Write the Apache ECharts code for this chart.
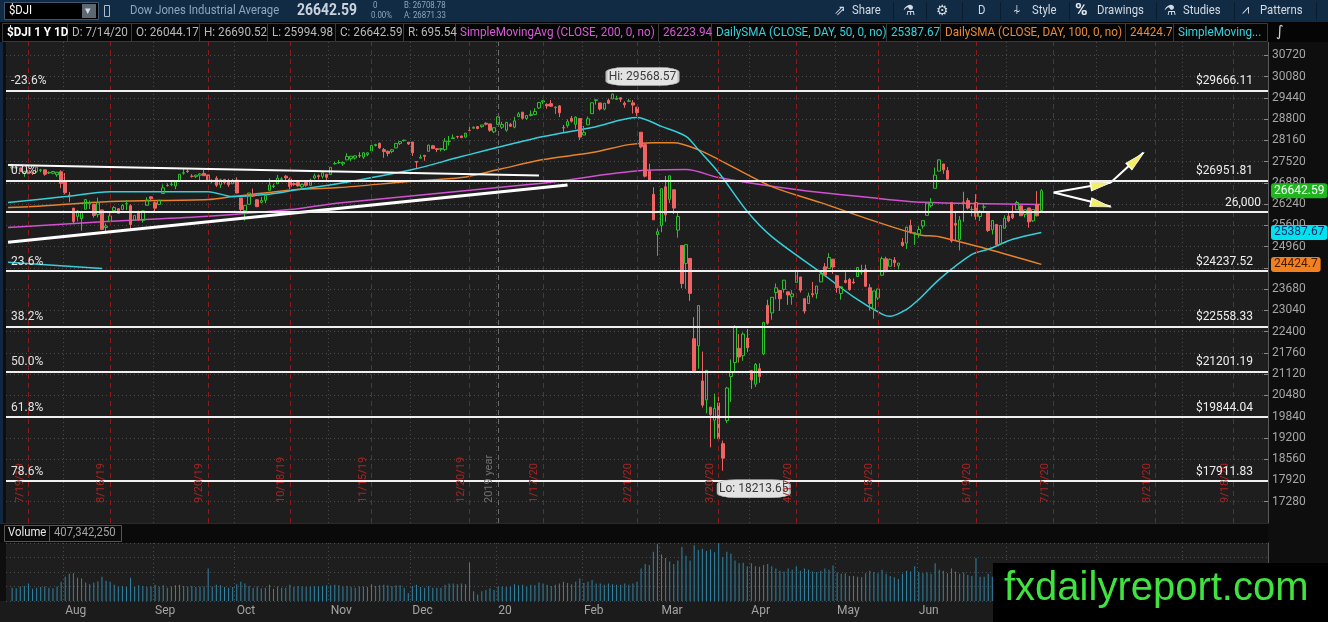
<!DOCTYPE html>
<html lang="en">
<head>
<meta charset="UTF-8">
<title>$DJI 1 Y 1D</title>
<script type="text/javascript" src="https://cdn.jsdelivr.net/npm/echarts@6.0.0/dist/echarts.min.js"></script>
<style>
html, body { margin: 0; padding: 0; background: #0e0e0e; }
#chart { width: 1328px; height: 622px; }
</style>
</head>
<body>
<div id="chart"></div>
<script type="text/javascript">
// daily bars [open, high, low, close], one array per month
var jul19 = [[27332,27398,27280,27359],[27338,27387,27307,27335],[27326,27347,27209,27219],[27165,27242,27062,27222],[27256,27273,27147,27154],[27183,27202,27115,27171],[27216,27350,27177,27349],[27253,27301,27199,27269],[27273,27280,27094,27140],[27176,27225,27145,27192],[27169,27228,27138,27221],[27123,27208,27065,27198],[27213,27257,26719,26864]];
var aug19 = [[26916,27176,26531,26583],[26512,26605,26297,26485],[26119,26119,25636,25718],[25868,26058,25719,26030],[25803,26008,25440,26008],[26085,26378,26080,26378],[26249,26347,26092,26287],[26231,26251,25833,25897],[25925,26434,25841,26280],[26064,26072,25479,25479],[25535,25659,25339,25579],[25709,25975,25709,25886],[26044,26178,26044,26135],[26101,26117,25953,25962],[26072,26243,26072,26202],[26240,26360,26060,26252],[26191,26240,25494,25628],[25747,25900,25735,25899],[26017,26044,25736,25778],[25750,26047,25686,26036],[26204,26445,26204,26362],[26458,26472,26324,26403]];
var sep19 = [[26280,26325,25978,26118],[26230,26356,26217,26355],[26557,26832,26557,26728],[26800,26859,26765,26797],[26826,26910,26778,26835],[26784,26909,26688,26909],[26936,27138,26936,27137],[27170,27306,27125,27182],[27235,27281,27181,27219],[27077,27138,27035,27076],[27068,27115,27022,27110],[27106,27171,26923,27147],[27165,27272,27087,27095],[27119,27120,26906,26935],[26918,26989,26865,26950],[27020,27080,26756,26808],[26818,27005,26722,26971],[26976,27000,26834,26891],[26950,27001,26758,26820],[26852,26998,26852,26917]];
var oct19 = [[26962,27047,26562,26573],[26425,26425,25975,26078],[26039,26218,25744,26201],[26235,26580,26235,26573],[26530,26704,26455,26478],[26370,26394,26149,26164],[26291,26454,26263,26346],[26353,26590,26267,26497],[26656,27014,26656,26816],[26767,26854,26722,26787],[26853,27120,26853,27024],[26982,27049,26970,26999],[27080,27112,26928,27026],[26995,27035,26692,26770],[26857,26895,26789,26827],[26889,26967,26768,26788],[26758,26859,26707,26834],[26892,26894,26762,26806],[26806,27006,26778,26958],[27023,27156,26982,27091],[27096,27130,26981,27071],[27075,27203,27008,27186],[27136,27136,26924,27046]];
var nov19 = [[27132,27348,27132,27347],[27454,27514,27428,27462],[27485,27568,27448,27492],[27450,27519,27393,27493],[27571,27774,27571,27675],[27613,27688,27541,27681],[27627,27709,27583,27691],[27700,27799,27634,27691],[27654,27802,27601,27784],[27730,27795,27682,27782],[27843,28005,27843,28005],[28003,28054,27976,28036],[28070,28090,27902,27934],[27879,27928,27633,27821],[27829,27850,27677,27767],[27822,27898,27770,27876],[27930,28067,27930,28066],[28067,28122,28020,28122],[28151,28174,28124,28164],[28103,28108,28022,28051]];
var dec19 = [[28109,28109,27689,27783],[27523,27528,27323,27503],[27621,27730,27621,27650],[27707,27708,27545,27677],[27830,28031,27830,28015],[27996,28020,27909,27910],[27906,27927,27804,27881],[27890,27930,27827,27911],[27879,28225,27842,28132],[28124,28290,28004,28135],[28212,28337,28212,28235],[28276,28292,28214,28268],[28287,28305,28232,28240],[28255,28377,28252,28377],[28458,28582,28426,28455],[28524,28582,28517,28551],[28573,28576,28490,28516],[28572,28621,28540,28621],[28675,28701,28609,28645],[28654,28664,28419,28462],[28415,28547,28376,28538]];
var jan20 = [[28638,28872,28627,28868],[28553,28716,28500,28634],[28465,28708,28418,28703],[28639,28685,28565,28584],[28556,28866,28522,28745],[28874,29010,28874,28956],[29008,29009,28784,28823],[28819,28908,28768,28907],[28908,29059,28880,28940],[28939,29127,28910,29030],[29132,29298,29107,29298],[29313,29374,29251,29348],[29239,29277,29109,29196],[29263,29373,29170,29186],[29142,29178,28953,29160],[29196,29221,28858,28990],[28542,28623,28409,28535],[28599,28788,28541,28723],[28820,28892,28694,28734],[28640,28879,28502,28859],[28814,28815,28170,28256]];
var feb20 = [[28319,28592,28319,28400],[28626,28876,28626,28807],[28963,29290,28963,29290],[29361,29381,29235,29380],[29286,29286,29057,29102],[29100,29277,29066,29276],[29365,29416,29250,29276],[29406,29568.57,29404,29551],[29392,29502,29372,29423],[29440,29441,29313,29398],[29279,29333,29139,29232],[29335,29409,29310,29348],[29287,29371,28967,29219],[29155,29170,28892,28992],[28403,28403,27921,27961],[28030,28032,27042,27081],[27229,27455,26934,26957],[26533,26746,25766,25766],[25321,25507,24681,25409]];
var mar20 = [[25591,26706,25392,26703],[26762,27084,25706,25917],[26383,27091,26270,27091],[26671,26671,25943,26121],[25457,25995,25227,25865],[24992,24992,23706,23851],[24453,25018,23690,25018],[24604,24604,23328,23553],[22184,22837,21154,21200],[21974,23186,21285,23186],[20917,21800,20116,20189],[20345,21237,19938,21237],[20127,20127,18917,19899],[19733,20531,19177,20087],[20253,20568,19120,19174],[19028,19121,18213.65,18592],[19722,20737,19649,20704],[21051,21565,20279,21200],[21469,22595,21209,22552],[21898,22327,21470,21637],[21678,22378,21523,22327],[22208,22480,21781,21917]];
var apr20 = [[21227,21227,20677,20943],[20819,21455,20735,21413],[21285,21447,20863,21053],[21727,22680,21693,22680],[23194,23361,22608,22654],[22965,23434,22759,23434],[23576,23851,23374,23719],[23641,23642,23025,23390],[23673,23956,23574,23950],[23598,23598,23209,23505],[23452,23650,23211,23538],[23882,24264,23882,24242],[24046,24047,23575,23650],[23393,23393,22942,23019],[23246,23575,23246,23475],[23543,23895,23432,23516],[23538,23775,23396,23775],[23897,24186,23897,24134],[24350,24465,24071,24102],[24305,24765,24305,24634],[24581,24581,24140,24346]];
var may20 = [[24084,24084,23570,23724],[23547,23750,23363,23750],[23940,24189,23850,23883],[23970,24017,23635,23664],[23895,24000,23836,23875],[24060,24335,24060,24331],[24190,24413,24112,24222],[24280,24416,23764,23765],[23721,23837,23034,23248],[23076,23625,22790,23625],[23415,23692,23354,23685],[24097,24657,24097,24597],[24592,24656,24186,24207],[24370,24604,24370,24576],[24554,24646,24343,24474],[24395,24466,24274,24465],[25089,25218,24952,24995],[25064,25548,24893,25548],[25599,25770,25347,25401],[25335,25384,25015,25383]];
var jun20 = [[25343,25566,25225,25475],[25580,25747,25499,25742],[25901,26270,25901,26270],[26191,26421,26135,26282],[26716,27339,26716,27111],[27233,27580,27233,27572],[27447,27447,27151,27272],[27251,27355,26965,26990],[26282,26282,25082,25128],[25659,26000,25128,25606],[25177,25880,24843,25763],[26300,26611,25707,26290],[26345,26426,26077,26120],[26071,26175,25872,26080],[26286,26539,25769,25871],[25866,26048,25732,26025],[26147,26241,26046,26156],[25991,25991,25402,25445],[25465,25760,25324,25745],[25627,25638,24972,25016],[25058,25596,25027,25596],[25512,25903,25511,25813]];
var jul20 = [[25880,26024,25695,25735],[25942,26205,25789,25827],[26070,26339,26070,26287],[26187,26187,25877,25890],[25930,26081,25838,26067],[26124,26124,25531,25706],[25736,26079,25705,26075],[26221,26630,25867,25890],[26044.17,26690.52,25994.98,26642.59]];

// volume, millions of shares
var volumes = [230,220,250,260,300,210,230,240,250,230,220,250,330,
  420,470,480,400,390,320,290,320,340,420,350,330,280,250,260,240,400,240,270,260,240,250,
  280,250,270,230,250,270,280,260,250,260,240,250,250,560,250,280,270,240,230,240,
  290,330,300,260,230,250,220,230,280,210,250,230,230,280,240,260,250,240,250,260,250,260,270,
  270,280,270,250,260,240,230,250,250,240,290,260,270,280,270,260,270,270,230,140,
  260,280,240,230,260,230,230,230,280,300,300,290,300,290,670,170,110,170,190,220,190,
  250,250,240,250,290,270,280,250,280,270,320,300,280,260,280,300,330,310,290,330,390,
  310,330,360,300,300,280,300,290,280,280,300,280,300,330,560,640,620,850,980,
  800,740,680,640,700,930,780,700,960,880,900,860,890,840,1000,760,850,820,700,650,660,600,
  650,600,590,620,640,600,560,520,510,560,540,600,520,560,540,510,500,520,560,540,610,
  490,470,480,430,430,420,410,480,520,500,480,540,470,430,410,380,470,520,510,600,
  500,480,490,470,650,540,520,480,560,510,470,490,450,430,740,420,420,470,420,560,440,460,
  430,420,400,390,380,420,400,420,407.34];

// moving averages: [slot, value]
var sma50 = [[0,26285],[14,26465],[25,26615],[49,26615],[55,26465],[63,26525],[71,26676],[81,26857],[99,27278],[111,27670],[131,28272],[143,28543],[154,28844],[160,28580],[166,28281],[169,27880],[174,27190],[181,26015],[187,25260],[199,24180],[207,23450],[214,22930],[216,22860],[220,23070],[223,23370],[228,23975],[236,24725],[240,24880],[246,25180],[253,25387.67]];
var sma100 = [[0,26135],[6,26165],[25,26315],[49,26375],[55,26465],[71,26676],[81,26736],[98,26917],[111,27037],[120,27278],[131,27580],[143,27790],[152,28030],[158,28090],[163,28090],[169,27880],[174,27580],[187,26766],[199,26285],[211,25773],[223,25320],[228,25260],[240,24880],[253,24424.7]];
var sma200 = [[0,25532],[25,25722],[49,25872],[69,26074],[81,26276],[130,26857],[155,27248],[166,27278],[174,27040],[187,26776],[199,26586],[211,26435],[224,26294],[253,26223.94]];
var smaLong = [[0,24490],[23,24300]];

// levels and annotations
var fibPct = ['-23.6%', '0.0%', '23.6%', '38.2%', '50.0%', '61.8%', '78.6%'];
var fibLevels = [29666.11, 26951.81, 24237.52, 22558.33, 21201.19, 19844.04, 17911.83];
var roundLevel = 26000;
var lastTags = [[26642.59, '#1fb51f', '#ffffff'], [25387.67, '#00e2ee', '#0b2d6b'], [24424.7, '#f08020', '#4a1a00']];
var expDates = ['2019-07-19','2019-08-16','2019-09-20','2019-10-18','2019-11-15','2019-12-20','2020-01-17','2020-02-21','2020-03-20','2020-04-17','2020-05-15','2020-06-19','2020-07-17','2020-08-21','2020-09-18'];
var upperTrend = [[0, 27420], [130, 27098]];
var lowerTrend = [[0, 25094], [137, 26815]];
var arrowPts = { v0: [256, 26586], p1: [270, 26887], p2: [278, 27790], p3: [270, 26165] };
var holidays = ['2019-09-02','2019-11-28','2019-12-25','2020-01-01','2020-01-20','2020-02-17','2020-04-10','2020-05-25','2020-07-03','2020-09-07'];
var monthNames = ['20','Feb','Mar','Apr','May','Jun','Jul','Aug','Sep','Oct','Nov','Dec'];

// trading-day category axis, one blank slot in front, future days to end of Sep
function tradingDays(from, to) {
    var out = [];
    var d = new Date(from + 'T00:00:00Z');
    var end = new Date(to + 'T00:00:00Z');
    while (d <= end) {
        var s = d.toISOString().slice(0, 10);
        var wd = d.getUTCDay();
        if (wd !== 0 && wd !== 6 && holidays.indexOf(s) < 0) out.push(s);
        d.setUTCDate(d.getUTCDate() + 1);
    }
    return out;
}
var days = [''].concat(tradingDays('2019-07-15', '2020-09-30'));

var bars = [].concat(jul19, aug19, sep19, oct19, nov19, dec19, jan20, feb20, mar20, apr20, may20, jun20, jul20);
var candleData = [['-', '-', '-', '-']];
bars.forEach(function (b) { candleData.push([b[0], b[3], b[2], b[1]]); });
var volData = ['-'].concat(volumes);

function isMonthStart(i) {
    return i >= 2 && days[i].slice(0, 7) !== days[i - 1].slice(0, 7);
}
function shortDate(s) {
    var p = s.split('-');
    return (+p[1]) + '/' + (+p[2]) + '/' + p[0].slice(2);
}
var hiSlot = days.indexOf('2020-02-12');
var loSlot = days.indexOf('2020-03-23');

// header, toolbars and watermark
var G = [];
var UI = 'Roboto, "Open Sans", sans-serif';
var NARROW = 0.87;
function rect(x, y, w, h, fill, stroke, z) {
    G.push({type: 'rect', z: z == null ? 100 : z, silent: true, shape: {x: x, y: y, width: w, height: h},
        style: {fill: fill || 'none', stroke: stroke || null, lineWidth: 1}});
}
function text(x, y, s, color, font, z, sx) {
    G.push({type: 'text', z: z == null ? 101 : z, silent: true, x: x, y: y, scaleX: sx || NARROW,
        style: {text: s, fill: color, font: font, align: 'left', verticalAlign: 'middle'}});
}
rect(0, 0, 1328, 22, '#112b45');
rect(4.5, 2.5, 94, 17, '#000000', '#3b5873');
text(9, 11, '$DJI', '#ffffff', '13px ' + UI);
rect(82, 4, 14, 14, '#5c6872');
text(85, 11, '▾', '#d5dce2', '11px "DejaVu Sans"', null, 1);
rect(104.5, 5.5, 5, 11, null, '#a9bccf');
text(130, 11, 'Dow Jones Industrial Average', '#8ea5bd', '13px ' + UI);
text(297, 11, '26642.59', '#c9d3de', 'bold 16px ' + UI);
text(373, 6, '0', '#8ea5bd', '9px ' + UI);
text(371, 16, '0.00%', '#8ea5bd', '9px ' + UI);
text(404, 6, 'B: 26708.78', '#8ea5bd', '9px ' + UI);
text(404, 16, 'A: 26871.33', '#8ea5bd', '9px ' + UI);
[893, 926, 962, 1000, 1069, 1156, 1234, 1316].forEach(function (x) { rect(x, 2, 1, 18, '#0a1d2f'); });
text(834, 11, '⇗', '#d3dbe3', '14px "DejaVu Sans"', null, 1);
text(852, 11, 'Share', '#d3dbe3', '13px ' + UI);
text(903, 11, '⚗', '#d3dbe3', '14px "DejaVu Sans"', null, 1);
text(936, 11, '⚙', '#d3dbe3', '14px "DejaVu Sans"', null, 1);
text(978, 11, 'D', '#d3dbe3', '13px ' + UI);
text(1013, 11, '⍭', '#d3dbe3', '13px "DejaVu Sans"', null, 1);
text(1032, 11, 'Style', '#d3dbe3', '13px ' + UI);
text(1075, 11, '%', '#e4ebf2', 'bold 17px ' + UI, null, 1);
text(1097, 11, 'Drawings', '#d3dbe3', '13px ' + UI);
text(1164, 11, '⚗', '#d3dbe3', '14px "DejaVu Sans"', null, 1);
text(1183, 11, 'Studies', '#d3dbe3', '13px ' + UI);
text(1242, 11, '⩘', '#d3dbe3', '13px "DejaVu Sans"', null, 1);
text(1260, 11, 'Patterns', '#d3dbe3', '13px ' + UI);

rect(0, 22, 1328, 20, '#050505');
var cells = [
    [2, 67, '$DJI 1 Y 1D', '#ffffff', 'bold 13px '],
    [67, 131, 'D: 7/14/20', '#b9b9b9', '13px '],
    [131, 199, 'O: 26044.17', '#b9b9b9', '13px '],
    [199, 267, 'H: 26690.52', '#b9b9b9', '13px '],
    [267, 335, 'L: 25994.98', '#b9b9b9', '13px '],
    [335, 403, 'C: 26642.59', '#b9b9b9', '13px '],
    [403, 455, 'R: 695.54', '#b9b9b9', '13px '],
    [455, 658, 'SimpleMovingAvg (CLOSE, 200, 0, no)', '#d95ad9', '13px '],
    [658, 711, '26223.94', '#d95ad9', '13px '],
    [711, 886, 'DailySMA (CLOSE, DAY, 50, 0, no)', '#35d2dc', '13px '],
    [886, 940, '25387.67', '#35d2dc', '13px '],
    [940, 1125, 'DailySMA (CLOSE, DAY, 100, 0, no)', '#ea8a32', '13px '],
    [1125, 1173, '24424.7', '#ea8a32', '13px '],
    [1173, 1267, 'SimpleMoving...', '#35d2dc', '13px ']
];
cells.forEach(function (c) {
    rect(c[0] + 0.5, 23.5, c[1] - c[0], 18, null, '#3a3a3a');
    text(c[0] + 5, 33, c[2], c[3], c[4] + UI, null, 0.9);
});
text(1276, 32, '∫', '#d0d0d0', '15px "DejaVu Sans"', null, 1);

// volume pane header
rect(0, 523, 1268, 20, '#0a0a0a', null, 50);
rect(0, 523.5, 1268, 0.5, '#4a4a4a', null, 51);
rect(4.5, 525.5, 45, 16, null, '#555555', 51);
text(8, 533, 'Volume', '#e8e8e8', '13px ' + UI, 52);
rect(49.5, 525.5, 72, 16, null, '#555555', 51);
text(54, 533, '407,342,250', '#a3a3a3', '13px ' + UI, 52);
rect(0, 601, 1268, 21, '#1b1b1b', null, -10);
rect(0, 42, 3, 481, '#0f2740', null, -10);

// watermark
rect(993, 563, 335, 59, '#000000', null, 110);
text(1004, 589, 'fxdailyreport.com', '#3fe23f', '40px "Liberation Sans", Arial, sans-serif', 111, 1);

var chart = echarts.init(document.getElementById('chart'));

var dotted = {color: '#4a4a4a', type: [1, 3], width: 1};
var hidden = {color: 'rgba(0,0,0,0)', width: 1, type: 'solid'};

chart.setOption({
    backgroundColor: '#0e0e0e',
    animation: false,
    textStyle: {fontFamily: UI},
    grid: [
        {left: 6, right: 60, top: 34, height: 489, show: true, backgroundColor: '#1e1e1e', borderWidth: 0},
        {left: 6, right: 60, top: 543, height: 58, show: true, backgroundColor: '#1e1e1e', borderWidth: 0}
    ],
    xAxis: [
        {type: 'category', gridIndex: 0, data: days, boundaryGap: true,
            axisLine: {show: false}, axisTick: {show: false}, axisLabel: {show: false},
            splitLine: {show: true, interval: isMonthStart, lineStyle: dotted}},
        {type: 'category', gridIndex: 1, data: days, boundaryGap: true,
            axisLine: {show: false}, axisTick: {show: false},
            axisLabel: {show: true, interval: isMonthStart, color: '#a3a3a3', fontSize: 12, align: 'left', margin: 4,
                formatter: function (v) { return v ? monthNames[+v.slice(5, 7) - 1] : ''; }},
            splitLine: {show: true, interval: isMonthStart, lineStyle: dotted}}
    ],
    yAxis: [
        {type: 'value', gridIndex: 0, position: 'right', min: 16640, max: 31360, interval: 640,
            axisLine: {show: true, lineStyle: {color: '#5a5a5a'}},
            axisTick: {show: true, inside: true, length: 4, lineStyle: {color: '#8a8a8a'}},
            axisLabel: {color: '#a6a6a6', fontSize: 12, margin: 4,
                formatter: function (v) { return (v === 16640 || v === 31360) ? '' : v; }},
            splitLine: {show: true, lineStyle: dotted}},
        {type: 'value', gridIndex: 1, position: 'right', min: 0, max: 1000, interval: 250,
            axisLine: {show: true, lineStyle: {color: '#5a5a5a'}}, axisTick: {show: false},
            axisLabel: {show: false}, splitLine: {show: true, lineStyle: dotted}}
    ],
    series: [
        {name: 'SMA200', type: 'line', xAxisIndex: 0, yAxisIndex: 0, data: sma200, showSymbol: false, smooth: 0.3,
            lineStyle: {color: '#d34fd3', width: 1.5}, z: 2,
            markLine: {silent: true, symbol: ['none', 'none'],
                lineStyle: {color: '#8e1b1b', width: 1, type: [5, 4]},
                label: {position: 'insideStartTop', color: '#a82424', fontSize: 11, distance: [20, 3]},
                data: expDates.map(function (d) { return {xAxis: d, label: {formatter: shortDate(d)}}; })
                    .concat([{xAxis: '2020-01-02', lineStyle: {color: '#6a6a6a', type: [5, 4]},
                        label: {formatter: '2019 year', color: '#707070'}}])}},
        {name: 'SMA100', type: 'line', xAxisIndex: 0, yAxisIndex: 0, data: sma100, showSymbol: false, smooth: 0.3,
            lineStyle: {color: '#e8832a', width: 1.5}, z: 2},
        {name: 'SMA50', type: 'line', xAxisIndex: 0, yAxisIndex: 0, data: sma50, showSymbol: false, smooth: 0.3,
            lineStyle: {color: '#35d0dc', width: 1.5}, z: 2,
            markLine: {silent: true, symbol: ['none', 'none'], lineStyle: {color: '#ffffff', width: 2, type: 'solid'},
                label: {show: false},
                data: [
                    [{coord: upperTrend[0]}, {coord: upperTrend[1]}],
                    [{coord: lowerTrend[0], lineStyle: {width: 3}}, {coord: lowerTrend[1]}],
                    [{coord: arrowPts.v0}, {coord: arrowPts.p1}],
                    [{coord: arrowPts.p1}, {coord: arrowPts.p2}],
                    [{coord: arrowPts.v0}, {coord: arrowPts.p3}]
                ]},
            markPoint: {silent: true, symbol: 'triangle', label: {show: false},
                itemStyle: {color: '#f2ee68', borderColor: '#ffffff', borderWidth: 1},
                data: [
                    {coord: arrowPts.p1, symbolSize: [9, 20], symbolRotate: -79.7, symbolOffset: [-10, 2]},
                    {coord: arrowPts.p2, symbolSize: [9, 20], symbolRotate: -47.2, symbolOffset: [-7, 7]},
                    {coord: arrowPts.p3, symbolSize: [9, 20], symbolRotate: -103.2, symbolOffset: [-10, -2]}
                ]}},
        {name: 'SMAlong', type: 'line', xAxisIndex: 0, yAxisIndex: 0, data: smaLong, showSymbol: false,
            lineStyle: {color: '#35d0dc', width: 1.5}, z: 2,
            markLine: {silent: true, symbol: ['none', 'none'], lineStyle: hidden,
                label: {position: 'insideStartTop', color: '#e2e2e2', fontSize: 12, distance: [5, 3]},
                data: fibLevels.map(function (v, i) { return {yAxis: v, label: {formatter: fibPct[i]}}; })}},
        {name: 'Tags', type: 'line', xAxisIndex: 0, yAxisIndex: 0, data: [], z: 6,
            markLine: {silent: true, symbol: ['none', 'none'], lineStyle: hidden,
                label: {position: 'end', distance: 3, fontSize: 12, padding: [2, 3, 1, 3], borderRadius: 3},
                data: lastTags.map(function (t) {
                    return {yAxis: t[0], label: {formatter: String(t[0]), backgroundColor: t[1], color: t[2]}};
                })}},
        {name: '$DJI', type: 'candlestick', xAxisIndex: 0, yAxisIndex: 0, data: candleData, barWidth: 3, z: 3,
            itemStyle: {color: 'transparent', color0: '#f06363', borderColor: '#2fbf2f', borderColor0: '#f06363', borderWidth: 1},
            markLine: {silent: true, symbol: ['none', 'none'], lineStyle: {color: '#efefef', width: 2, type: 'solid'},
                label: {position: 'insideEndTop', color: '#eeeeee', fontSize: 12, distance: [15, 3]},
                data: fibLevels.map(function (v) { return {yAxis: v, label: {formatter: '$' + v.toFixed(2)}}; })
                    .concat([{yAxis: roundLevel, label: {formatter: '26,000', distance: [7, 3]}}])},
            markPoint: {silent: true, symbol: 'roundRect', symbolSize: [72, 18],
                itemStyle: {color: '#e3e3e3', borderColor: '#bcbcbc', borderWidth: 1},
                label: {show: true, position: 'inside', color: '#3a3a3a', fontSize: 12},
                data: [
                    {coord: [hiSlot, 29568.57], symbolOffset: [30, -17], label: {formatter: 'Hi: 29568.57'}},
                    {coord: [loSlot, 18213.65], symbolOffset: [31, 18], label: {formatter: 'Lo: 18213.65'}}
                ]}},
        {name: 'Volume', type: 'bar', xAxisIndex: 1, yAxisIndex: 1, data: volData, barWidth: 1,
            itemStyle: {color: '#2f86a8'}}
    ],
    graphic: {elements: G}
});
</script>
</body>
</html>
